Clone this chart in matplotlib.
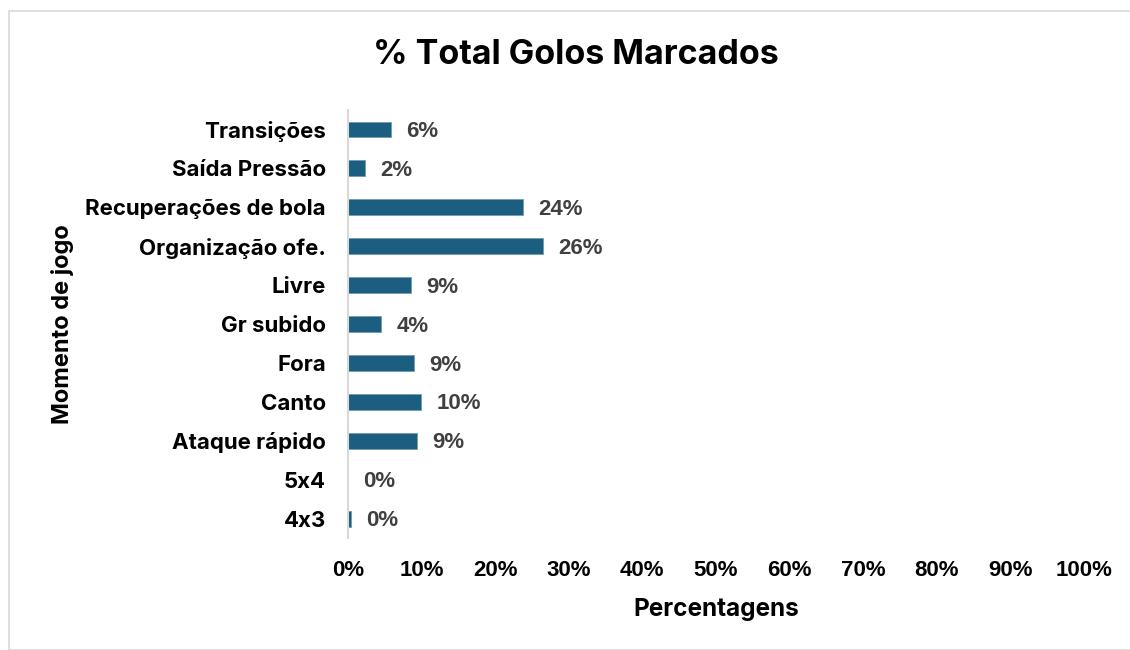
import numpy as np
import matplotlib.pyplot as plt
from matplotlib.patches import Rectangle

categorias = ['Transições', 'Saída Pressão', 'Recuperações de bola', 'Organização ofe.',
              'Livre', 'Gr subido', 'Fora', 'Canto', 'Ataque rápido', '5x4', '4x3']
percentagens = [5.8, 2.3, 23.8, 26.5, 8.6, 4.5, 9.0, 9.9, 9.4, 0.0, 0.4]
xticks = [0, 10, 20, 30, 40, 50, 60, 70, 80, 90, 100]

cor_barra = '#1b5e80'
texto = ['Inter', 'DejaVu Sans']
numeros = ['Liberation Sans', 'DejaVu Sans']

fig = plt.figure(figsize=(11.3, 6.5), dpi=100)
ax = fig.add_axes([0.308, 0.172, 0.651, 0.659])

# moldura do gráfico
fig.patches.append(Rectangle((9 / 1130, 0), 1.0, 1 - 11 / 650, transform=fig.transFigure,
                             fill=False, edgecolor='#d9d9d9', linewidth=1.2))

y = np.arange(len(categorias))
barras = ax.barh(y, percentagens, height=0.4, color=cor_barra, edgecolor='#6d9bb5', linewidth=0.6)

for b, v in zip(barras, percentagens):
    ax.annotate(f'{v:.0f}%', (b.get_width(), b.get_y() + b.get_height() / 2),
                xytext=(11, -1.5), textcoords='offset points', va='center', ha='left',
                fontsize=16, fontweight='bold', color='#404040', family=numeros)

ax.set_ylim(len(categorias) - 0.5, -0.5)
ax.set_xlim(0, 100)
ax.set_yticks(y)
ax.set_yticklabels(categorias, fontsize=16, fontweight='bold', family=texto)
ax.set_xticks(xticks)
ax.set_xticklabels([f'{t}%' for t in xticks], fontsize=16, fontweight='bold', family=numeros)
ax.tick_params(length=0)
ax.tick_params(axis='y', pad=16)
ax.tick_params(axis='x', pad=16)

for s in ['top', 'right', 'bottom']:
    ax.spines[s].set_visible(False)
ax.spines['left'].set_color('#d9d9d9')
ax.spines['left'].set_linewidth(1.5)

ax.set_xlabel('Percentagens', fontsize=17.5, fontweight='bold', family=texto, labelpad=12)
ax.set_ylabel('Momento de jogo', fontsize=17, fontweight='bold', family=texto, labelpad=8)
fig.text(0.51, 0.915, '% Total Golos Marcados', ha='center', va='center',
         fontsize=24.5, fontweight='bold', family=texto)

fig.savefig('out.png', dpi=100)
